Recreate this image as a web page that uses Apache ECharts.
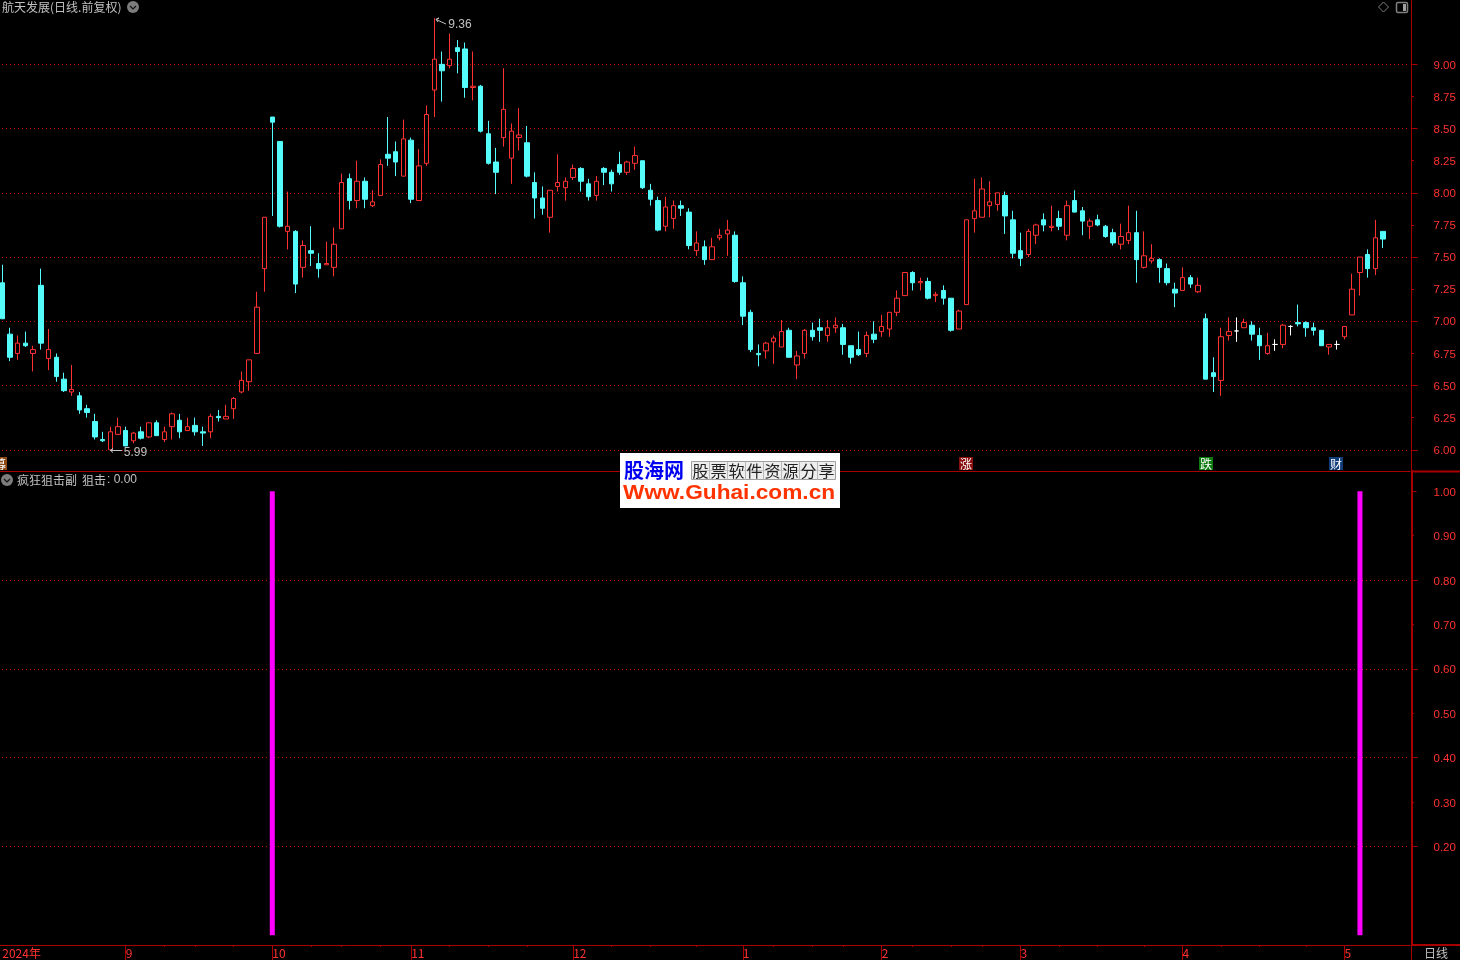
<!DOCTYPE html>
<html><head><meta charset="utf-8">
<style>html,body{margin:0;padding:0;background:#000}#c{width:1460px;height:960px}</style>
<script src="https://cdn.jsdelivr.net/npm/echarts@6/dist/echarts.min.js"></script>
</head><body><div id="c"></div>
<script>
const opens=[
7.30,6.90,6.75,6.83,6.75,7.28,6.71,6.72,6.55,6.45,
6.42,6.32,6.22,6.08,6.00,6.12,6.15,6.07,6.14,6.10,
6.21,6.08,6.18,6.23,6.15,6.19,6.14,6.14,6.26,6.24,
6.32,6.45,6.53,6.75,7.41,8.59,8.40,7.70,7.70,7.42,
7.55,7.45,7.44,7.42,7.72,8.11,7.94,8.09,7.90,7.98,
8.30,8.32,8.13,8.41,7.94,8.23,8.80,9.00,8.99,9.13,
9.12,8.82,8.83,8.46,8.24,8.43,8.27,8.43,8.39,8.08,
7.96,7.81,8.05,8.04,8.12,8.19,8.07,7.98,8.19,8.16,
8.22,8.16,8.23,8.25,8.02,7.94,7.74,7.80,7.90,7.85,
7.55,7.58,7.48,7.65,7.68,7.67,7.30,7.07,6.75,6.77,
6.84,6.80,6.93,6.66,6.75,6.93,6.95,6.89,6.95,6.95,
6.81,6.78,6.75,6.90,6.92,6.94,7.07,7.20,7.38,7.30,
7.31,7.20,7.24,7.18,6.94,7.13,7.80,7.81,7.90,7.91,
7.98,7.79,7.55,7.52,7.67,7.79,7.73,7.80,7.67,7.94,
7.86,7.74,7.79,7.74,7.69,7.60,7.63,7.69,7.42,7.47,
7.48,7.41,7.25,7.24,7.34,7.23,7.02,6.60,6.54,6.89,
6.925,6.95,6.97,6.89,6.75,6.82,6.82,6.96,6.99,6.99,
6.95,6.93,6.80,6.82,6.88,7.05,7.38,7.52,7.41,7.70];
const closes=[
7.02,6.72,6.83,6.81,6.78,6.83,6.78,6.57,6.46,6.47,
6.31,6.29,6.10,6.07,6.14,6.18,6.03,6.13,6.09,6.21,
6.11,6.14,6.28,6.14,6.18,6.14,6.13,6.26,6.25,6.26,
6.40,6.54,6.70,7.11,7.81,8.55,7.74,7.74,7.29,7.59,
7.53,7.41,7.45,7.60,8.08,7.94,8.09,7.95,7.93,8.22,
8.27,8.24,8.42,7.95,8.21,8.61,9.04,8.95,9.04,9.10,
8.82,8.83,8.48,8.23,8.16,8.65,8.48,8.45,8.13,7.96,
7.88,8.02,8.08,8.09,8.19,8.09,7.97,8.09,8.16,8.07,
8.16,8.24,8.29,8.04,7.95,7.71,7.89,7.90,7.88,7.59,
7.61,7.48,7.58,7.67,7.71,7.31,7.04,6.78,6.74,6.83,
6.87,6.92,6.72,6.73,6.93,6.88,6.93,6.95,6.97,6.82,
6.72,6.74,6.89,6.86,6.96,7.07,7.18,7.38,7.30,7.31,
7.18,7.21,7.18,6.93,7.08,7.79,7.86,8.03,7.93,8.00,
7.82,7.53,7.49,7.70,7.75,7.75,7.74,7.74,7.90,7.85,
7.78,7.78,7.75,7.66,7.61,7.66,7.69,7.48,7.51,7.49,
7.42,7.30,7.22,7.34,7.29,7.28,6.55,6.57,6.88,6.92,
6.925,6.99,6.90,6.81,6.81,6.82,6.97,6.96,6.98,6.95,
6.93,6.81,6.82,6.82,6.96,7.25,7.50,7.41,7.65,7.64];
const highs=[
7.44,6.95,6.89,6.92,6.81,7.41,6.94,6.75,6.60,6.66,
6.45,6.35,6.28,6.14,6.18,6.25,6.18,6.14,6.18,6.21,
6.23,6.18,6.29,6.28,6.25,6.25,6.18,6.28,6.31,6.35,
6.41,6.61,6.70,7.23,7.81,8.59,8.40,8.01,7.71,7.63,
7.74,7.53,7.62,7.73,8.15,8.15,8.25,8.12,8.02,8.26,
8.59,8.40,8.57,8.43,8.34,8.68,9.36,9.10,9.24,9.19,
9.17,9.10,8.84,8.56,8.35,8.97,8.54,8.66,8.52,8.16,
8.05,8.02,8.30,8.12,8.22,8.20,8.11,8.13,8.20,8.18,
8.32,8.25,8.36,8.25,8.07,7.97,7.97,7.94,7.94,7.88,
7.70,7.63,7.65,7.72,7.79,7.70,7.35,7.09,6.82,6.84,
6.89,7.01,6.95,6.77,6.94,6.99,7.02,7.01,7.03,6.98,
6.81,6.92,6.92,7.00,7.05,7.07,7.24,7.38,7.39,7.34,
7.34,7.23,7.28,7.18,7.09,7.79,8.11,8.12,8.09,8.00,
8.01,7.86,7.69,7.72,7.76,7.84,7.90,7.86,7.94,8.02,
7.89,7.80,7.83,7.75,7.72,7.76,7.90,7.86,7.70,7.60,
7.49,7.45,7.30,7.42,7.36,7.34,7.06,6.72,6.95,7.03,
7.03,7.02,7.00,6.95,6.91,6.86,6.98,6.97,7.13,7.00,
6.99,6.93,6.82,6.85,6.96,7.37,7.50,7.56,7.79,7.70];
const lows=[
7.02,6.69,6.70,6.80,6.61,6.78,6.62,6.53,6.45,6.42,
6.28,6.25,6.08,6.06,5.99,6.12,6.03,6.05,6.08,6.09,
6.11,6.06,6.08,6.09,6.15,6.11,6.03,6.09,6.22,6.24,
6.24,6.44,6.46,6.75,7.23,7.82,7.73,7.56,7.22,7.34,
7.43,7.34,7.44,7.35,7.72,7.87,7.88,7.88,7.89,7.98,
8.21,8.13,8.13,7.92,7.94,8.21,8.59,8.71,8.97,8.93,
8.74,8.72,8.47,8.22,7.99,8.36,8.07,8.33,8.12,7.80,
7.83,7.69,8.01,7.94,8.10,8.01,7.94,7.94,8.06,8.01,
8.14,8.14,8.18,8.03,7.90,7.70,7.70,7.72,7.82,7.56,
7.51,7.44,7.48,7.63,7.51,7.30,6.97,6.76,6.65,6.71,
6.67,6.80,6.72,6.55,6.71,6.85,6.84,6.84,6.91,6.74,
6.67,6.73,6.72,6.83,6.88,6.88,7.04,7.20,7.24,7.24,
7.17,7.15,7.13,6.92,6.94,7.13,7.69,7.81,7.81,7.86,
7.68,7.49,7.43,7.50,7.60,7.70,7.70,7.71,7.63,7.85,
7.67,7.64,7.74,7.65,7.59,7.56,7.60,7.30,7.41,7.45,
7.30,7.28,7.11,7.24,7.26,7.22,6.55,6.45,6.42,6.85,
6.84,6.95,6.85,6.70,6.74,6.77,6.79,6.89,6.96,6.88,
6.89,6.81,6.74,6.78,6.86,7.05,7.20,7.34,7.36,7.57];
const flatDays=[160,165,167,173];
const strikeDays=[35,176];
const strikeValue=1;
const monthTickDays=[16,35,53,74,96,114,132,153,174];
const axisLabelDays=[0,16,35,53,74,96,114,132,153,174];
const axisLabelTexts=['2024年','9','10','11','12','1','2','3','4','5'];
const minorTickDays=[21,25,30,40,44,49,58,63,68,79,84,90,100,105,109,118,123,127,137,142,148,158,163,169];
const priceTicks=[6,6.25,6.5,6.75,7,7.25,7.5,7.75,8,8.25,8.5,8.75,9];
const priceGrid=[6,6.5,7,7.5,8,8.5,9];
const priceMinor=[6.25,6.75,7.25,7.75,8.25,8.75];
const subTicks=[0.2,0.3,0.4,0.5,0.6,0.7,0.8,0.9,1];
const subGrid=[0.2,0.4,0.6,0.8];
const subMinor=[0.3,0.5,0.7,0.9];
const lowMark={day:14,price:5.99}, highMark={day:56,price:9.36};
const blankSlots=3;

const RED='#ff3232',CY='#54fcfc',LINE='#a80000',DOT='#c80000',GREY='#c0c0c0';
const CJK='"Noto Sans CJK SC","Liberation Sans",sans-serif';
const NUM='"Liberation Sans",sans-serif';
const n=opens.length+blankSlots;
const categories=Array.from({length:n},(_,i)=>{const k=axisLabelDays.indexOf(i);return k>=0?axisLabelTexts[k]:' '+i;});
const candles=opens.map((o,i)=>{
  const v=[o,closes[i],lows[i],highs[i]];
  return flatDays.includes(i)?{value:v,itemStyle:{color:'#fff',color0:'#fff',borderColor:'#fff',borderColor0:'#fff'}}:v;
});
const strike=opens.map((_,i)=>strikeDays.includes(i)?strikeValue:null);
const GL=-1.56,GW=1411.66,OFF=1.4;
const fmt2=v=>(+v).toFixed(2);
function pAxis(idx,extra){return Object.assign({type:'value',gridIndex:idx,position:'right',offset:OFF,
  min:idx===0?5.831:-0.0221,max:idx===0?9.501:1.0444,scale:true,
  axisLine:{show:true,onZero:false,lineStyle:{color:LINE,width:idx===0?1:2}},
  axisTick:{show:false},axisLabel:{show:false},splitLine:{show:false}},extra);}
const tick=(vals,len)=>({show:true,customValues:vals,length:len,lineStyle:{color:LINE,width:1}});
const numLabel=(vals,top)=>({show:true,customValues:vals,margin:22,formatter:v=>'{a|'+fmt2(v)+'}',
  rich:{a:{color:RED,fontFamily:NUM,fontSize:11.5,padding:[top,0,0,0]}}});
const dotted={show:true,lineStyle:{color:DOT,width:1,type:[1,3],dashOffset:0.44}};
const cellW=18;
const wmChars='股票软件资源分享'.split('');
const txt=(x,y,t,fill,extra)=>({type:'text',x,y,silent:true,z:50,style:Object.assign({text:t,fill,font:'12px '+CJK,textVerticalAlign:'middle'},extra||{})});
const badge=(x,t,bg)=>[
 {type:'rect',z:40,silent:true,shape:{x:x-7,y:457,width:14,height:13},style:{fill:bg}},
 {type:'text',x:x,y:464,z:41,silent:true,style:{text:t,fill:'#fff',font:'12px '+CJK,textAlign:'center',textVerticalAlign:'middle'}}];
const chevron=(cx,cy)=>[
 {type:'circle',z:50,silent:true,shape:{cx,cy,r:6},style:{fill:'#7c7c7c'}},
 {type:'polyline',z:51,silent:true,shape:{points:[[cx-3,cy-1],[cx,cy+2],[cx+3,cy-1]]},style:{stroke:'#111',lineWidth:1.2,fill:null}}];
const hline=(x1,y,x2,w)=>({type:'line',z:30,silent:true,shape:{x1,y1:y,x2,y2:y},style:{stroke:LINE,lineWidth:w}});
const graphics=[
 txt(2,7,'航天发展(日线.前复权)',GREY),
 ...chevron(133,7),
 ...chevron(7,480),
 txt(17,480,'疯狂狙击副',GREY),
 txt(82,480,'狙击',GREY),
 txt(107,480,': 0.00',GREY,{font:'12px '+NUM}),
 {type:'polygon',z:50,silent:true,shape:{points:[[1383.5,2],[1388.5,7],[1383.5,12],[1378.5,7]]},style:{stroke:'#808080',fill:null,lineWidth:1}},
 {type:'rect',z:50,silent:true,shape:{x:1396.5,y:2.5,width:11,height:10,r:1.5},style:{stroke:'#808080',fill:null,lineWidth:1.5}},
 {type:'rect',z:50,silent:true,shape:{x:1403,y:4,width:3,height:7},style:{fill:'#a0a0a0'}},
 ...badge(0,'募','#8b4a16'),
 ...badge(966,'涨','#8a1010'),
 ...badge(1206,'跌','#0f7a0f'),
 ...badge(1336,'财','#123c78'),
 {type:'polyline',z:50,silent:true,shape:{points:[[122,450.5],[110.5,450.5],[113,448.5],[110.5,450.5],[113,452.5]]},style:{stroke:GREY,fill:null,lineWidth:1}},
 {type:'polyline',z:50,silent:true,shape:{points:[[446,24],[436,19.5],[439,18],[436,19.5],[438,22]]},style:{stroke:GREY,fill:null,lineWidth:1}},
 hline(1411.5,471.5,1460,2),
 hline(1411.5,945,1460,2),
 {type:'line',z:30,silent:true,shape:{x1:1411.5,y1:945,x2:1411.5,y2:960},style:{stroke:LINE,lineWidth:1}},
 txt(1424,953,'日线',GREY),
 {type:'rect',z:60,silent:true,shape:{x:620,y:453,width:220,height:55},style:{fill:'#fff'}},
 {type:'text',x:624,y:470,z:61,silent:true,style:{text:'股海网',fill:'#0000f0',font:'bold 20px '+CJK,textVerticalAlign:'middle'}},
 {type:'rect',z:61,silent:true,shape:{x:691.5,y:461.5,width:144,height:18},style:{fill:'#eeeeee',stroke:'#a0a0a0',lineWidth:1}},
 {type:'line',z:61,silent:true,shape:{x1:691.5,y1:470.5,x2:835.5,y2:470.5},style:{stroke:'#c8c8c8',lineWidth:1}},
 ...wmChars.flatMap((c,i)=>[
  {type:'text',x:691.5+cellW*i+9,y:470.5,z:62,silent:true,style:{text:c,fill:'#222',font:'16px '+CJK,textAlign:'center',textVerticalAlign:'middle'}},
  ...(i?[{type:'line',z:61,silent:true,shape:{x1:691.5+cellW*i,y1:461.5,x2:691.5+cellW*i,y2:479.5},style:{stroke:'#b8b8b8',lineWidth:1}}]:[])]),
 {type:'text',x:623,y:493,z:61,silent:true,scaleX:1.08,style:{text:'Www.Guhai.com.cn',fill:'#ff3300',font:'bold 21px '+NUM,textVerticalAlign:'middle'}}
];
const option={
 backgroundColor:'#000',animation:false,
 grid:[{left:GL,width:GW,top:0,height:471.5,outerBoundsMode:'none'},{left:GL,width:GW,top:471.5,height:473.5,outerBoundsMode:'none'}],
 xAxis:[
  {type:'category',gridIndex:0,data:categories,axisLine:{show:true,onZero:false,lineStyle:{color:LINE}},axisTick:{show:false},axisLabel:{show:false},splitLine:{show:false}},
  {type:'category',gridIndex:1,data:categories,position:'bottom',axisLine:{show:true,onZero:false,lineStyle:{color:LINE}},
   axisTick:{show:true,alignWithLabel:true,length:15,lineStyle:{color:LINE},interval:(i)=>monthTickDays.includes(i)},
   axisLabel:{show:true,interval:(i)=>axisLabelDays.includes(i),color:RED,fontFamily:CJK,fontSize:12,align:'left',margin:2,
     formatter:(v,i)=>axisLabelDays.includes(i)?v:''},splitLine:{show:false}},
  {type:'category',gridIndex:1,data:categories,position:'bottom',axisLine:{show:false,onZero:false},
   axisTick:{show:true,alignWithLabel:true,length:2,lineStyle:{color:LINE},interval:(i)=>minorTickDays.includes(i)},
   axisLabel:{show:false},splitLine:{show:false}}
 ],
 yAxis:[
  pAxis(0,{axisTick:tick(priceMinor,2.5),axisLabel:numLabel(priceTicks,2)}),
  pAxis(0,{axisTick:tick(priceGrid,6),splitLine:dotted}),
  pAxis(1,{axisTick:tick(subMinor,2.5),axisLabel:numLabel(subTicks,3)}),
  pAxis(1,{axisTick:tick(subGrid,6),splitLine:dotted}),
  pAxis(1,{axisTick:tick([1],5)})
 ],
 series:[
  {type:'candlestick',xAxisIndex:0,yAxisIndex:0,barWidth:5,data:candles,z:5,
   itemStyle:{color:'#000',color0:CY,borderColor:RED,borderColor0:CY,borderWidth:1},
   markPoint:{symbol:'circle',symbolSize:0,silent:true,animation:false,
    label:{show:true,position:'right',color:GREY,fontFamily:NUM,fontSize:12,formatter:p=>fmt2(p.value)},
    data:[
     {coord:[lowMark.day,lowMark.price],value:lowMark.price,label:{offset:[8.5,2]}},
     {coord:[highMark.day,highMark.price],value:highMark.price,label:{offset:[9,6.5]}}
    ]}},
  {type:'bar',xAxisIndex:1,yAxisIndex:2,barWidth:5,data:strike,itemStyle:{color:'#ff00ff'},z:5}
 ],
 graphic:graphics
};
const chart=echarts.init(document.getElementById('c'),null,{renderer:'canvas',width:1460,height:960});
chart.setOption(option);
</script></body></html>
